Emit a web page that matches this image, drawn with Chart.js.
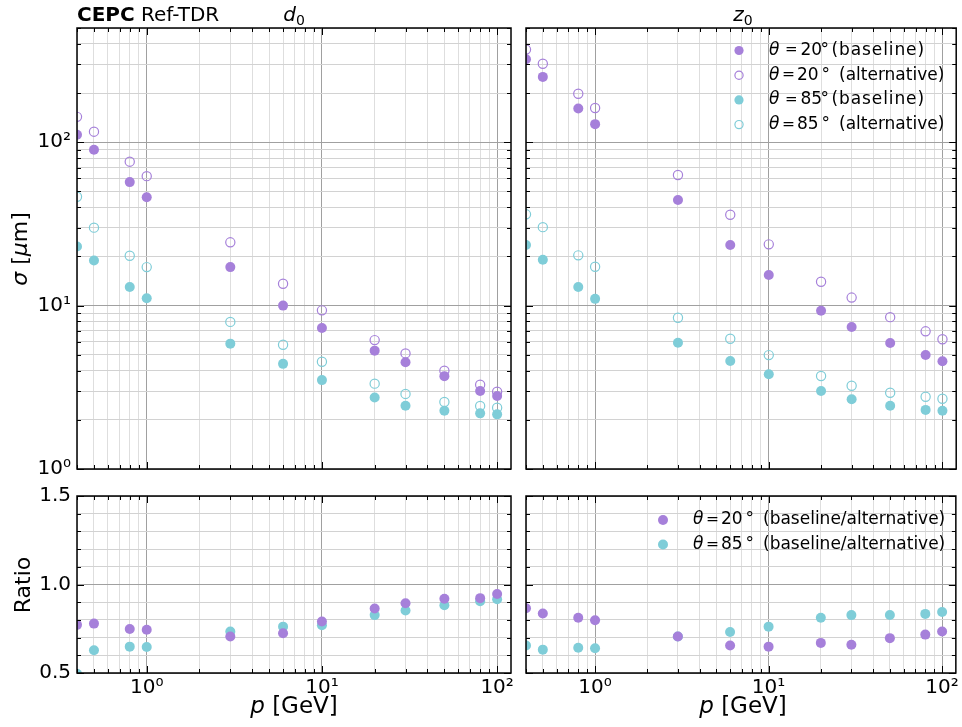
<!DOCTYPE html>
<html>
<head>
<meta charset="utf-8">
<script src="https://cdn.jsdelivr.net/npm/chart.js@4.4.1/dist/chart.umd.min.js"></script>
<style>
    body { margin: 0; background: #fff; }
    #wrap { position: relative; width: 962px; height: 727px; font-family: 'DejaVu Sans', sans-serif; color: #000; }
    #wrap canvas { position: absolute; left: 0; top: 0; }
    .txt { position: absolute; white-space: nowrap; line-height: 1; }
    .txt sub { font-size: 0.7em; vertical-align: -0.25em; line-height: 0; }
    .rot { transform: translate(-50%, -50%) rotate(-90deg); }
    .mid { transform: translateX(-50%); }
</style>
</head>
<body>
<div id="wrap">
    <canvas id="d0-chart" width="962" height="727"></canvas>
    <canvas id="z0-chart" width="962" height="727"></canvas>
    <canvas id="d0-ratio" width="962" height="727"></canvas>
    <canvas id="z0-ratio" width="962" height="727"></canvas>

    <div class="txt" style="left:77px; top:4px; font-size:20px;"><b>CEPC</b> Ref-TDR</div>
    <div class="txt mid" style="left:294px; top:4px; font-size:20px;"><i>d</i><sub>0</sub></div>
    <div class="txt mid" style="left:743px; top:4px; font-size:20px;"><i>z</i><sub>0</sub></div>
    <div class="txt rot" style="left:20px; top:249px; font-size:22px;"><i>σ</i> [<i>μ</i>m]</div>
    <div class="txt rot" style="left:23px; top:585px; font-size:22px;">Ratio</div>
    <div class="txt mid" style="left:294px; top:694px; font-size:23px;"><i>p</i> [GeV]</div>
    <div class="txt mid" style="left:743px; top:694px; font-size:23px;"><i>p</i> [GeV]</div>
</div>

<script>
// momentum points [GeV]
const momentum = [0.4, 0.5, 0.8, 1, 3, 6, 10, 20, 30, 50, 80, 100];

// d0 resolution [um]
const d0Theta20Base = [111, 90, 57, 46, 17.2, 10.0, 7.3, 5.3, 4.5, 3.7, 3.0, 2.8];
const d0Theta20Alt  = [143, 116, 76, 62, 24.4, 13.6, 9.35, 6.15, 5.1, 4.0, 3.28, 2.97];
const d0Theta85Base = [23.0, 18.9, 13.0, 11.1, 5.85, 4.4, 3.5, 2.74, 2.44, 2.27, 2.19, 2.16];
const d0Theta85Alt  = [46.4, 30.0, 20.2, 17.2, 7.95, 5.76, 4.53, 3.33, 2.88, 2.57, 2.43, 2.37];

// z0 resolution [um]
const z0Theta20Base = [322, 251, 161, 129, 44.3, 23.5, 15.4, 9.3, 7.4, 5.9, 4.98, 4.56];
const z0Theta20Alt  = [369, 302, 198, 162, 63, 36, 23.7, 14.0, 11.2, 8.5, 6.96, 6.22];
const z0Theta85Base = [23.5, 19.1, 13.0, 11.0, 5.93, 4.58, 3.8, 3.0, 2.67, 2.44, 2.30, 2.27];
const z0Theta85Alt  = [36.2, 30.2, 20.3, 17.3, 8.43, 6.27, 4.98, 3.71, 3.23, 2.93, 2.77, 2.69];

// baseline / alternative
const ratioD0Theta20 = [0.772, 0.779, 0.749, 0.744, 0.706, 0.725, 0.791, 0.864, 0.894, 0.919, 0.923, 0.946];
const ratioD0Theta85 = [0.496, 0.629, 0.649, 0.647, 0.734, 0.762, 0.770, 0.827, 0.853, 0.883, 0.906, 0.917];
const ratioZ0Theta20 = [0.866, 0.836, 0.812, 0.798, 0.706, 0.655, 0.649, 0.670, 0.660, 0.697, 0.717, 0.734];
const ratioZ0Theta85 = [0.655, 0.632, 0.643, 0.640, 0.706, 0.732, 0.762, 0.812, 0.827, 0.828, 0.834, 0.845];

// axis ticks
const momentumTicks = [0.4, 0.5, 0.6, 0.7, 0.8, 0.9, 1, 2, 3, 4, 5, 6, 7, 8, 9,
    10, 20, 30, 40, 50, 60, 70, 80, 90, 100];
const sigmaTicks = [1, 2, 3, 4, 5, 6, 7, 8, 9, 10, 20, 30, 40, 50, 60, 70, 80, 90,
    100, 200, 300, 400, 500];
const ratioTicks = [0.5, 0.6, 0.7, 0.8, 0.9, 1, 1.1, 1.2, 1.3, 1.4, 1.5];
const logTickLabels = { 1: '10⁰', 10: '10¹', 100: '10²' };
const ratioTickLabels = { 0.5: '0.5', 1: '1.0', 1.5: '1.5' };

const PURPLE = 'rgb(166, 128, 218)';
const CYAN = 'rgb(127, 205, 216)';
const PAGE_W = 962, PAGE_H = 727;

Chart.defaults.font.family = "'DejaVu Sans', sans-serif";
Chart.defaults.color = '#000';

// inward ticks on all four sides + black frame
const framePlugin = {
    id: 'frame',
    afterDraw(chart) {
        const { ctx, chartArea: a, scales } = chart;
        ctx.save();
        ctx.strokeStyle = '#000';
        ctx.lineWidth = 1;
        ctx.beginPath();
        scales.x.ticks.forEach(t => {
            const px = Math.round(scales.x.getPixelForValue(t.value)) + 0.5;
            const len = t.major ? 7 : 4;
            ctx.moveTo(px, a.bottom); ctx.lineTo(px, a.bottom - len);
            ctx.moveTo(px, a.top); ctx.lineTo(px, a.top + len);
        });
        scales.y.ticks.forEach(t => {
            const py = Math.round(scales.y.getPixelForValue(t.value)) + 0.5;
            const len = t.major ? 7 : 4;
            ctx.moveTo(a.left, py); ctx.lineTo(a.left + len, py);
            ctx.moveTo(a.right, py); ctx.lineTo(a.right - len, py);
        });
        ctx.stroke();
        ctx.lineWidth = 1.5;
        ctx.strokeRect(a.left, a.top, a.right - a.left, a.bottom - a.top);
        ctx.restore();
    }
};

// matplotlib-like legend: marker then text made of styled pieces
const legendPlugin = {
    id: 'markerLegend',
    afterDatasetsDraw(chart, args, opts) {
        if (!opts || !opts.items) return;
        const ctx = chart.ctx;
        ctx.save();
        opts.items.forEach((item, i) => {
            const y = opts.y + i * opts.rowGap;
            ctx.beginPath();
            ctx.arc(opts.markerX, y, item.filled ? opts.radius : opts.radius - 0.5, 0, Math.PI * 2);
            if (item.filled) {
                ctx.fillStyle = item.color;
                ctx.fill();
            } else {
                ctx.strokeStyle = item.color;
                ctx.lineWidth = 1.2;
                ctx.stroke();
            }
            ctx.fillStyle = '#000';
            ctx.textBaseline = 'middle';
            let x = opts.textX;
            item.parts.forEach(part => {
                const size = part.size || opts.fontSize;
                ctx.font = (part.italic ? 'italic ' : '') + size + "px 'DejaVu Sans'";
                if (part.dx !== undefined) x = opts.textX + part.dx;
                const gap = part.spacing || 0;
                if (gap) {
                    for (const ch of part.text) {
                        ctx.fillText(ch, x, y);
                        x += ctx.measureText(ch).width + gap;
                    }
                } else {
                    ctx.fillText(part.text, x, y);
                    x += ctx.measureText(part.text).width;
                }
            });
        });
        ctx.restore();
    }
};

function baseParts(angle) {
    return [{ text: 'θ', italic: true }, { text: '=', dx: 16, size: 15 }, { text: angle, dx: 31.5 },
        { text: '°', dx: 51.5 }, { text: '(baseline)', dx: 62.5, spacing: 0.9 }];
}

function altParts(angle, tail) {
    return [{ text: 'θ', italic: true }, { text: '=', dx: 13, size: 15.5 }, { text: angle, dx: 28 },
        { text: '°', dx: 52.5 }, { text: tail, dx: 70 }];
}

function makePanel(id, area, cfg) {
    const yW = cfg.showY ? 70 : 0;
    const xH = cfg.showX ? 40 : 0;
    const datasets = cfg.series.map(s => ({
        data: momentum.map((p, i) => ({ x: p, y: s.values[i] })),
        pointRadius: s.filled ? 5 : 4.6,
        pointHoverRadius: s.filled ? 5 : 4.6,
        pointBackgroundColor: s.filled ? s.color : 'rgba(0,0,0,0)',
        pointBorderColor: s.color,
        pointBorderWidth: s.filled ? 0 : 1.2,
        clip: 0
    }));

    const gridColor = (major, minor) => c => (c.tick && c.tick.major ? major : minor);

    const yScale = cfg.ratio ? {
        type: 'linear', min: 0.5, max: 1.5,
        afterBuildTicks: s => { s.ticks = ratioTicks.map(v => ({ value: v, major: v in ratioTickLabels })); },
        ticks: { callback: v => ratioTickLabels[v] || '' }
    } : {
        type: 'logarithmic', min: 1, max: 500,
        afterBuildTicks: s => { s.ticks = sigmaTicks.map(v => ({ value: v, major: v in logTickLabels })); },
        ticks: { callback: v => logTickLabels[v] || '' }
    };

    return new Chart(document.getElementById(id), {
        type: 'scatter',
        data: { datasets },
        options: {
            responsive: false,
            animation: false,
            events: [],
            layout: {
                padding: {
                    left: area.left - yW,
                    top: area.top,
                    right: PAGE_W - area.right,
                    bottom: PAGE_H - area.bottom - xH
                }
            },
            plugins: {
                legend: { display: false },
                tooltip: { enabled: false },
                markerLegend: cfg.legend || false
            },
            scales: {
                x: {
                    type: 'logarithmic', min: 0.4, max: 120,
                    afterBuildTicks: s => { s.ticks = momentumTicks.map(v => ({ value: v, major: v in logTickLabels })); },
                    afterFit: s => { s.height = xH; },
                    grid: { color: gridColor('#a0a0a0', '#dedede'), lineWidth: 1, drawTicks: false },
                    border: { display: false },
                    ticks: {
                        display: cfg.showX, autoSkip: false, maxRotation: 0, padding: 3,
                        font: { size: 20 }, color: '#000',
                        callback: v => logTickLabels[v] || ''
                    }
                },
                y: {
                    type: yScale.type, min: yScale.min, max: yScale.max,
                    afterBuildTicks: yScale.afterBuildTicks,
                    afterFit: s => { s.width = yW; },
                    grid: { color: gridColor('#a0a0a0', '#d2d2d2'), lineWidth: 1, drawTicks: false },
                    border: { display: false },
                    ticks: {
                        display: cfg.showY, autoSkip: false, padding: 6,
                        font: { size: 20 }, color: '#000',
                        callback: yScale.ticks.callback
                    }
                }
            }
        },
        plugins: [legendPlugin, framePlugin]
    });
}

const LEFT = { left: 77, right: 511 };
const RIGHT = { left: 526, right: 960 };
const TOP = { top: 28, bottom: 469 };
const BOTTOM = { top: 496, bottom: 673 };

makePanel('d0-chart', { ...LEFT, ...TOP }, {
    showX: false, showY: true,
    series: [
        { values: d0Theta20Alt, color: PURPLE, filled: false },
        { values: d0Theta85Alt, color: CYAN, filled: false },
        { values: d0Theta20Base, color: PURPLE, filled: true },
        { values: d0Theta85Base, color: CYAN, filled: true }
    ]
});

makePanel('z0-chart', { ...RIGHT, ...TOP }, {
    showX: false, showY: false,
    series: [
        { values: z0Theta20Alt, color: PURPLE, filled: false },
        { values: z0Theta85Alt, color: CYAN, filled: false },
        { values: z0Theta20Base, color: PURPLE, filled: true },
        { values: z0Theta85Base, color: CYAN, filled: true }
    ],
    legend: {
        markerX: 739, textX: 769, y: 50.5, rowGap: 24.7, radius: 4.6, fontSize: 17,
        items: [
            { color: PURPLE, filled: true, parts: baseParts('20') },
            { color: PURPLE, filled: false, parts: altParts('20', '(alternative)') },
            { color: CYAN, filled: true, parts: baseParts('85') },
            { color: CYAN, filled: false, parts: altParts('85', '(alternative)') }
        ]
    }
});

makePanel('d0-ratio', { ...LEFT, ...BOTTOM }, {
    showX: true, showY: true, ratio: true,
    series: [
        { values: ratioD0Theta20, color: PURPLE, filled: true },
        { values: ratioD0Theta85, color: CYAN, filled: true }
    ]
});

makePanel('z0-ratio', { ...RIGHT, ...BOTTOM }, {
    showX: true, showY: false, ratio: true,
    series: [
        { values: ratioZ0Theta20, color: PURPLE, filled: true },
        { values: ratioZ0Theta85, color: CYAN, filled: true }
    ],
    legend: {
        markerX: 663, textX: 693, y: 520, rowGap: 24.5, radius: 5, fontSize: 17,
        items: [
            { color: PURPLE, filled: true, parts: altParts('20', '(baseline/alternative)') },
            { color: CYAN, filled: true, parts: altParts('85', '(baseline/alternative)') }
        ]
    }
});
</script>
</body>
</html>
